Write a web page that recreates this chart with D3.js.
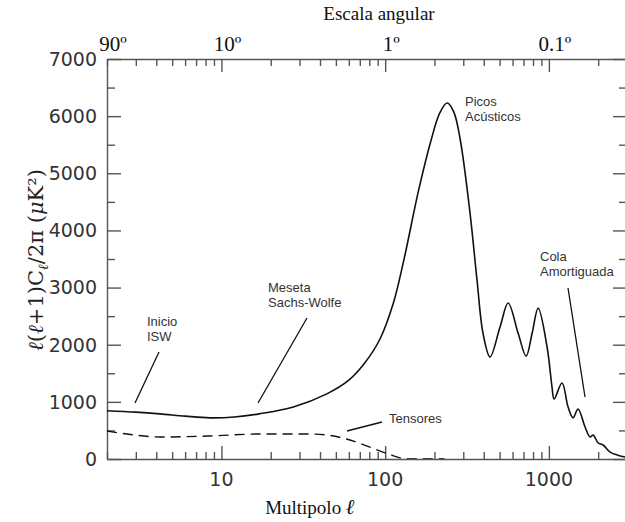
<!DOCTYPE html>
<html>
<head>
  <meta charset="utf-8">
  <style>
  body { margin: 0; background: #fff; }
  .curve { fill: none; stroke: #111; stroke-width: 1.6px; }
  .tensor { fill: none; stroke: #111; stroke-width: 1.4px; stroke-dasharray: 10,6; }
  .axis path, .axis line { stroke: #555; stroke-width: 1.4px; }
  .note { font-family: "Liberation Sans", Arial, sans-serif; font-size: 13px; fill: #333; }
  .leader { stroke: #111; stroke-width: 1.3px; }
  .tick-num { font-family: "DejaVu Sans", sans-serif; font-size: 19px; fill: #333; }
  .serif { font-family: "Liberation Serif", "Times New Roman", serif; fill: #111; }
  </style>
  <script src="https://d3js.org/d3.v7.min.js"></script>
</head>
<body>
<svg id="chart"></svg>
<script>

// multipole l and power l(l+1)Cl/2pi (uK^2)
var ell = [2, 3, 4.2, 6, 8.5, 12, 17, 27.5, 44, 60, 75, 93, 112, 130, 160, 190, 215, 239, 262, 287, 330, 364, 396, 437, 503, 564, 649, 726, 790, 860, 975, 1045, 1076, 1203, 1310, 1405, 1507, 1663, 1785, 1863, 2000, 2145, 2365, 2610, 2920];
var power = [845, 820, 790, 750, 720, 735, 790, 910, 1140, 1380, 1680, 2100, 2720, 3480, 4700, 5560, 6050, 6230, 6080, 5600, 4300, 3130, 2200, 1785, 2310, 2730, 2200, 1800, 2200, 2640, 1960, 1260, 1050, 1330, 910, 720, 875, 560, 385, 420, 280, 245, 120, 70, 35];

// tensor contribution (dashed)
var ellTensor = [2, 2.65, 4.2, 8.5, 17, 35, 44, 58, 77, 104, 136, 230];
var powerTensor = [490, 437, 385, 403, 437, 437, 420, 350, 230, 90, 0, 0];

// axis ticks
var xMajor = [10, 100, 1000];
var xMinor = [2, 3, 4, 5, 6, 7, 8, 9, 20, 30, 40, 50, 60, 70, 80, 90, 200, 300, 400, 500, 600, 700, 800, 900, 2000];
var yMajor = [0, 1000, 2000, 3000, 4000, 5000, 6000, 7000];
var yMinor = [500, 1500, 2500, 3500, 4500, 5500, 6500];
var angleLabels = ["90º", "10º", "1º", "0.1º"];
var angleEll = [2, 10, 100, 1000];

// annotations: text lines and leader lines
var notes = [
  { lines: ["Inicio", "ISW"], x: 147, y: 326, leader: [159, 352, 135, 403] },
  { lines: ["Meseta", "Sachs-Wolfe"], x: 268, y: 292, leader: [307, 318, 258, 403] },
  { lines: ["Tensores"], x: 389, y: 423, leader: [382, 422, 347, 431] },
  { lines: ["Picos", "Acústicos"], x: 465, y: 106, leader: null },
  { lines: ["Cola", "Amortiguada"], x: 540, y: 261, leader: [568, 288, 585, 397] }
];

var W = 625, H = 522;
var mLeft = 107, mRight = 627, mTop = 59, mBottom = 459;

var svg = d3.select("#chart")
    .attr("width", W)
    .attr("height", H);

var x = d3.scaleLog().domain([2, 3000]).range([mLeft, mRight]);
var y = d3.scaleLinear().domain([0, 7000]).range([mBottom, mTop]);

svg.append("defs").append("clipPath").attr("id", "plot")
  .append("rect")
    .attr("x", mLeft).attr("y", mTop - 2)
    .attr("width", mRight - mLeft).attr("height", mBottom - mTop + 2);

// frame + ticks
function addAxis(axis, tx, ty, drawPath) {
  var g = svg.append("g")
      .attr("class", "axis")
      .attr("transform", "translate(" + tx + "," + ty + ")")
      .call(axis.tickFormat(""));
  if (!drawPath) g.select(".domain").remove();
  return g;
}

addAxis(d3.axisBottom(x).tickValues(xMajor).tickSizeInner(-13).tickSizeOuter(0), 0, mBottom, true);
addAxis(d3.axisBottom(x).tickValues(xMinor).tickSizeInner(-7).tickSizeOuter(0), 0, mBottom, false);
addAxis(d3.axisTop(x).tickValues(xMajor).tickSizeInner(-13).tickSizeOuter(0), 0, mTop, true);
addAxis(d3.axisTop(x).tickValues(xMinor).tickSizeInner(-7).tickSizeOuter(0), 0, mTop, false);
addAxis(d3.axisLeft(y).tickValues(yMajor).tickSizeInner(-14).tickSizeOuter(0), mLeft, 0, true);
addAxis(d3.axisLeft(y).tickValues(yMinor).tickSizeInner(-8).tickSizeOuter(0), mLeft, 0, false);
addAxis(d3.axisRight(y).tickValues(yMajor).tickSizeInner(-14).tickSizeOuter(0), mRight, 0, true);
addAxis(d3.axisRight(y).tickValues(yMinor).tickSizeInner(-8).tickSizeOuter(0), mRight, 0, false);

// tick labels
svg.selectAll(".ylab").data(yMajor).enter().append("text")
    .attr("class", "tick-num")
    .attr("x", 97)
    .attr("y", function(d) { return y(d); })
    .attr("dy", "0.36em")
    .attr("text-anchor", "end")
    .text(function(d) { return d; });

svg.selectAll(".xlab").data(xMajor).enter().append("text")
    .attr("class", "tick-num")
    .attr("x", function(d) { return x(d); })
    .attr("y", 486)
    .attr("text-anchor", "middle")
    .text(function(d) { return d; });

svg.selectAll(".alab").data(angleLabels).enter().append("text")
    .attr("class", "serif")
    .attr("font-size", "21px")
    .attr("x", function(d, i) { return x(angleEll[i]) + 6; })
    .attr("y", 51)
    .attr("text-anchor", "middle")
    .text(function(d) { return d; });

svg.append("text")
    .attr("class", "serif")
    .attr("font-size", "19px")
    .attr("x", 379).attr("y", 20)
    .attr("text-anchor", "middle")
    .text("Escala angular");

var xt = svg.append("text")
    .attr("class", "serif")
    .attr("font-size", "19px")
    .attr("x", 310).attr("y", 514)
    .attr("text-anchor", "middle");
xt.append("tspan").text("Multipolo ");
xt.append("tspan").attr("font-style", "italic").attr("font-weight", "bold").attr("font-size", "21px").text("ℓ");

var yt = svg.append("text")
    .attr("font-family", "DejaVu Serif, serif")
    .attr("font-size", "21px")
    .attr("fill", "#222")
    .attr("text-anchor", "middle")
    .attr("transform", "translate(43,260) rotate(-90)");
yt.append("tspan").attr("font-style", "italic").text("ℓ");
yt.append("tspan").text("(");
yt.append("tspan").attr("font-style", "italic").text("ℓ");
yt.append("tspan").text("+1)C");
yt.append("tspan").attr("font-style", "italic").attr("font-size", "14px").attr("dy", 5).text("ℓ");
yt.append("tspan").attr("dy", -5).text("/2π (");
yt.append("tspan").attr("font-style", "italic").text("μ");
yt.append("tspan").text("K²)");

// curves
var line = d3.line()
    .x(function(d) { return x(d[0]); })
    .y(function(d) { return y(d[1]); })
    .curve(d3.curveMonotoneX);

var plot = svg.append("g").attr("clip-path", "url(#plot)");

plot.append("path")
    .datum(d3.zip(ellTensor, powerTensor))
    .attr("class", "tensor")
    .attr("d", line);

plot.append("path")
    .datum(d3.zip(ell, power))
    .attr("class", "curve")
    .attr("d", d3.line()
        .x(function(d) { return x(d[0]); })
        .y(function(d) { return y(d[1]); })
        .curve(d3.curveCatmullRom.alpha(0.5)));

// annotations
notes.forEach(function(n) {
  var t = svg.append("text").attr("class", "note");
  n.lines.forEach(function(s, i) {
    t.append("tspan").attr("x", n.x).attr("y", n.y + i * 15).text(s);
  });
  if (n.leader) {
    svg.append("line").attr("class", "leader")
        .attr("x1", n.leader[0]).attr("y1", n.leader[1])
        .attr("x2", n.leader[2]).attr("y2", n.leader[3]);
  }
});

</script>
</body>
</html>
